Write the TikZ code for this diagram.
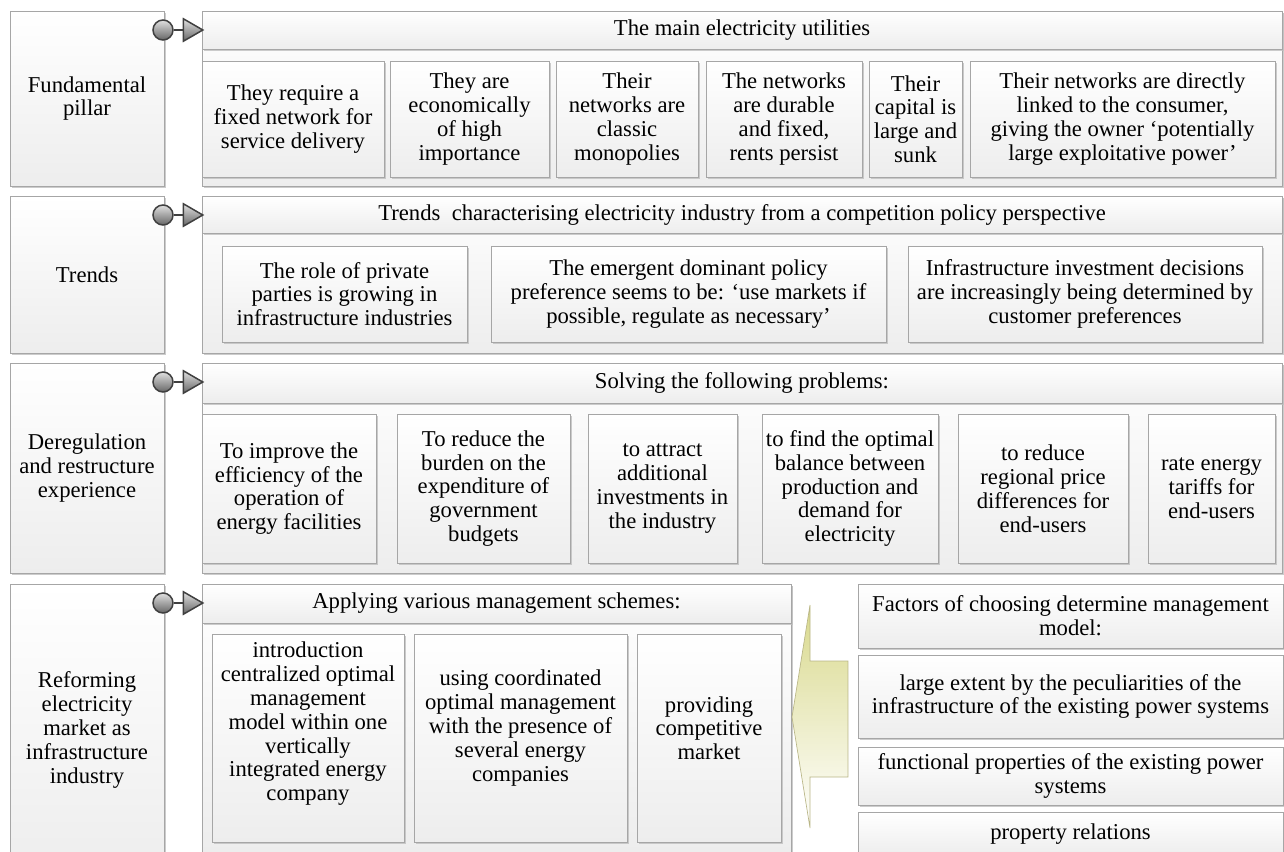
\documentclass[tikz,border=0pt]{standalone}
\usepackage{fontspec}
\setmainfont{Liberation Serif}
\usetikzlibrary{shadows,shapes.geometric}

\tikzset{
  cell/.style={draw=black!35, top color=white, bottom color=black!7,
    inner sep=0pt, outer sep=0pt, align=center, font=\fontsize{13.6}{14.3}\selectfont,
    drop shadow={shadow xshift=1.2pt, shadow yshift=-1.2pt, fill=black!25, opacity=0.8}},
  area/.style n args={4}{at={({(#1+#3)/2},{(#2+#4)/2})},
    minimum width={(#3-#1)*0.6pt}, minimum height={(#4-#2)*0.6pt}},
  raised/.style={text depth=#1},
  knob/.style={circle, draw=black!75, line width=0.9pt, top color=black!12,
    bottom color=black!60, minimum size=12pt, inner sep=0pt},
  pointer/.style={regular polygon, regular polygon sides=3, shape border rotate=-90,
    draw=black!75, line width=0.9pt, top color=black!12, bottom color=black!60,
    minimum size=15.5pt, inner sep=0pt},
  knobline/.style={draw=black!75, line width=0.9pt},
  bigarrow/.style={draw=olive!60!black!45, top color=olive!30!white, bottom color=white}
}

\begin{document}
\begin{tikzpicture}[x=0.6pt, y=-0.6pt]
  \useasboundingbox (0,0) rectangle (1284,851);
  \clip (0,0) rectangle (1284,851);

  % left column
  \node[cell, area={10}{11}{164}{186}] (pillar) {Fundamental\\pillar};
  \node[cell, area={10}{196}{164}{353}] (trends) {Trends};
  \node[cell, area={10}{363}{164}{573}] (dereg) {Deregulation\\and restructure\\experience};
  \node[cell, area={10}{584}{164}{876}] (reform) {Reforming\\electricity\\market as\\infrastructure\\industry};

  % row 1
  \node[cell, area={202}{11}{1282}{186}] (panelA) {};
  \node[cell, area={202}{11}{1282}{49}] (headA) {The main electricity utilities};
  \node[cell, area={202}{61}{384}{177}] (a1) {They require a\\fixed network for\\service delivery};
  \node[cell, area={390}{61}{549}{177}] (a2) {They are\\economically\\of high\\importance};
  \node[cell, area={556}{61}{698}{177}] (a3) {Their\\networks are\\classic\\monopolies};
  \node[cell, area={706}{61}{862}{177}] (a4) {The networks\\are durable\\and fixed,\\rents persist};
  \node[cell, area={869}{61}{962}{177}] (a5) {Their\\capital is\\large and\\sunk};
  \node[cell, area={970}{61}{1275}{177}] (a6) {Their networks are directly\\linked to the consumer,\\giving the owner ‘potentially\\large exploitative power’};

  % row 2
  \node[cell, area={202}{196}{1282}{353}] (panelB) {};
  \node[cell, area={202}{196}{1282}{233}] (headB) {Trends\ \ characterising electricity industry from a competition policy perspective};
  \node[cell, area={222}{246}{467}{342}] (b1) {The role of private\\parties is growing in\\infrastructure industries};
  \node[cell, area={491}{246}{886}{342}] (b2) {The emergent dominant policy\\preference seems to be: ‘use markets if\\possible, regulate as necessary’};
  \node[cell, area={908}{246}{1262}{342}] (b3) {Infrastructure investment decisions\\are increasingly being determined by\\customer preferences};

  % row 3
  \node[cell, area={202}{363}{1282}{573}] (panelC) {};
  \node[cell, area={202}{363}{1282}{403}] (headC) {Solving the following problems:};
  \node[cell, area={202}{414}{376}{563}] (c1) {To improve the\\efficiency of the\\operation of\\energy facilities};
  \node[cell, area={397}{414}{570}{563}] (c2) {To reduce the\\burden on the\\expenditure of\\government\\budgets};
  \node[cell, area={588}{414}{737}{563}] (c3) {to attract\\additional\\investments in\\the industry};
  \node[cell, area={762}{414}{938}{563}] (c4) {to find the optimal\\balance between\\production and\\demand for\\electricity};
  \node[cell, area={958}{414}{1128}{563}] (c5) {to reduce\\regional price\\differences for\\end-users};
  \node[cell, area={1148}{414}{1275}{563}] (c6) {rate energy\\tariffs for\\end-users};

  % row 4
  \node[cell, area={202}{584}{791}{852}] (panelD) {};
  \node[cell, area={202}{584}{791}{623}] (headD) {Applying various management schemes:};
  \node[cell, raised=20pt, area={212}{634}{404}{842}] (d1) {introduction\\centralized optimal\\management\\model within one\\vertically\\integrated energy\\company};
  \node[cell, raised=15pt, area={414}{634}{627}{842}] (d2) {using coordinated\\optimal management\\with the presence of\\several energy\\companies};
  \node[cell, raised=12pt, area={637}{634}{781}{842}] (d3) {providing\\competitive\\market};

  % factors
  \node[cell, area={858}{584}{1283}{648}] (f1) {Factors of choosing determine management\\model:};
  \node[cell, area={858}{655}{1283}{738}] (f2) {large extent by the peculiarities of the\\infrastructure of the existing power systems};
  \node[cell, area={858}{747}{1283}{805}] (f3) {functional properties of the existing power\\systems};
  \node[cell, area={858}{812}{1283}{856}] (f4) {property relations};

  \draw[bigarrow] (792,717) -- (810,605) -- (810,661) -- (848,661)
    -- (848,777) -- (810,777) -- (810,828) -- cycle;

  % connectors
  \foreach \r/\y in {A/30, B/215, C/382, D/603} {
    \node[knob] (k\r) at (163,\y) {};
    \node[pointer] (t\r) at (189.9,\y) {};
    \draw[knobline] (k\r) -- (t\r);
  }
\end{tikzpicture}
\end{document}
